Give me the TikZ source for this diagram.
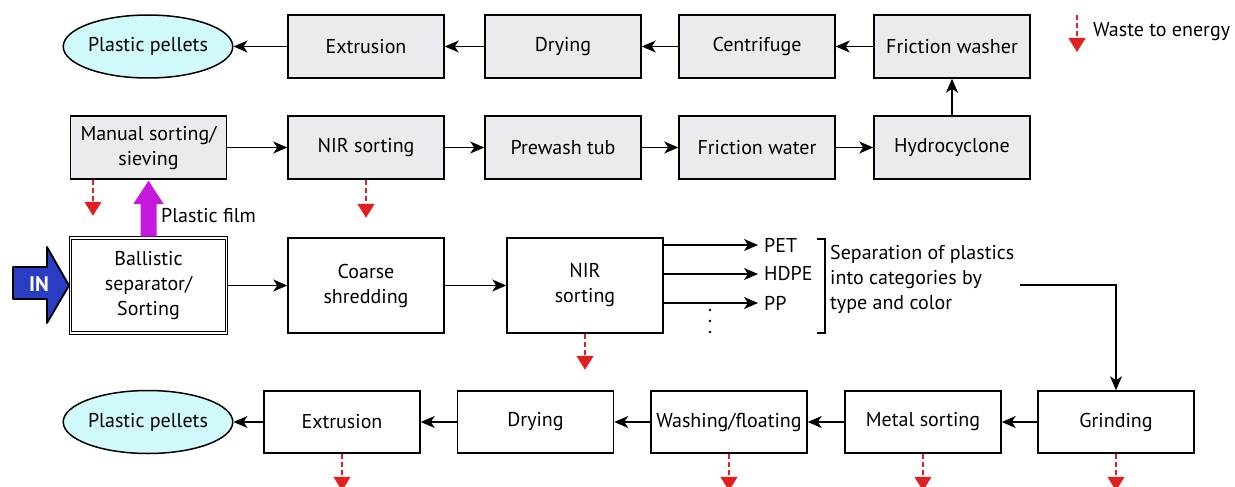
\documentclass[tikz,border=0pt]{standalone}
\usepackage{fontspec}
\setmainfont{PT Sans}
\usetikzlibrary{arrows.meta,shapes.geometric,calc}
\definecolor{boxgray}{HTML}{ECEAEE}
\definecolor{pelcyan}{HTML}{D0FAFC}
\definecolor{inblue}{HTML}{2B3CC4}
\definecolor{filmmag}{HTML}{C518DD}
\definecolor{wred}{HTML}{E0201E}
\tikzset{
  txt/.style={font=\fontsize{20}{25}\selectfont},
  base/.style={txt, draw=black, line width=1.5pt, minimum width=156pt, inner sep=0pt, align=center},
  gbox/.style={base, fill=boxgray, minimum height=63pt},
  wbox/.style={base, fill=white, minimum height=62pt},
  tbox/.style={base, fill=white, minimum height=95pt},
  pel/.style={txt, ellipse, draw=black, line width=1.5pt, fill=pelcyan, minimum width=157pt, minimum height=63pt, inner sep=0pt},
  arr/.style={line width=1.5pt, -{Stealth[length=14pt,width=12pt,inset=4pt]}},
  waste/.style={wred, line width=1.4pt, dash pattern=on 5pt off 3pt, -{Triangle[length=14pt,width=17pt]}},
  lbl/.style={txt, inner sep=0pt}
}
\begin{document}
\begin{tikzpicture}[x=1pt,y=-1pt]
\useasboundingbox (0,0) rectangle (1235,487);
% top row
\node[pel]  (pel1) at (148,46.5) {Plastic pellets};
\node[gbox] (ext1) at (366,46.5) {Extrusion};
\node[gbox] (dry1) at (563,46.5) {Drying};
\node[gbox] (cent) at (757,46.5) {Centrifuge};
\node[gbox] (fw)   at (952,46.5) {Friction washer};
% second row
\node[gbox] (man)  at (148.5,147.5) {Manual sorting/\\sieving};
\node[gbox] (nir1) at (366,147.5) {NIR sorting};
\node[gbox] (pre)  at (563,147.5) {Prewash tub};
\node[gbox] (fwat) at (757,147.5) {Friction water};
\node[gbox] (hyd)  at (952,147.5) {Hydrocyclone};
% middle row
\node[tbox, double, double distance=1.6pt, line width=1pt] (ball) at (148.5,285.5) {Ballistic\\separator/\\Sorting};
\node[tbox] (coarse) at (366,285.5) {Coarse\\shredding};
\node[tbox] (nir2)   at (585,285.5) {NIR\\sorting};
% bottom row
\node[pel]  (pel2)  at (148,422) {Plastic pellets};
\node[wbox] (ext2)  at (342,422) {Extrusion};
\node[wbox] (dry2)  at (535.5,422) {Drying};
\node[wbox] (wash)  at (729,422) {Washing/floating};
\node[wbox] (metal) at (923,422) {Metal sorting};
\node[wbox] (grind) at (1116,422) {Grinding};
% top row arrows
\draw[arr] (fw.west) -- (cent.east);
\draw[arr] (cent.west) -- (dry1.east);
\draw[arr] (dry1.west) -- (ext1.east);
\draw[arr] (ext1.west) -- (pel1.east);
% second row arrows
\draw[arr] (man.east) -- (nir1.west);
\draw[arr] (nir1.east) -- (pre.west);
\draw[arr] (pre.east) -- (fwat.west);
\draw[arr] (fwat.east) -- (hyd.west);
\draw[arr] (hyd.north) -- (fw.south);
% middle row arrows
\draw[arr] (ball.east) -- (coarse.west);
\draw[arr] (coarse.east) -- (nir2.west);
\node[lbl, anchor=west] (pet)  at (764,245) {PET};
\node[lbl, anchor=west] (hdpe) at (764,274) {HDPE};
\node[lbl, anchor=west] (pp)   at (764,303) {PP};
\draw[arr] (nir2.east |- pet.west) -- ([xshift=-6pt]pet.west);
\draw[arr] (nir2.east |- hdpe.west) -- ([xshift=-6pt]hdpe.west);
\draw[arr] (nir2.east |- pp.west) -- ([xshift=-6pt]pp.west);
\foreach \yy in {310,321,332} \fill (710,\yy) circle (1.4pt);
\draw[line width=1.5pt] (817,239) -- (825,239) -- (825,333) -- (817,333);
\node[lbl, anchor=west, align=left] (sep) at (830,279) {Separation of plastics\\into categories by\\type and color};
\coordinate (sepout) at (1020,285);
\draw[arr] (sepout) -| (grind.north);
% bottom row arrows
\draw[arr] (grind.west) -- (metal.east);
\draw[arr] (metal.west) -- (wash.east);
\draw[arr] (wash.west) -- (dry2.east);
\draw[arr] (dry2.west) -- (ext2.east);
\draw[arr] (ext2.west) -- (pel2.east);
% IN arrow
\filldraw[fill=inblue, draw=black, line width=1.8pt, line join=round]
  (13,267) -- (47,267) -- (47,247) -- ([xshift=-1pt]ball.west) -- (47,323) -- (47,299) -- (13,299) -- cycle;
\node[font=\bfseries\fontsize{21}{21}\selectfont, text=white, inner sep=0pt] (in) at (39,284) {IN};
% plastic film arrow
\fill[filmmag] ($(ball.north)+(-8,-1)$) -- ($(man.south)+(-8,24)$) -- ($(man.south)+(-15,24)$) -- ($(man.south)+(0,1)$)
  -- ($(man.south)+(15,24)$) -- ($(man.south)+(8,24)$) -- ($(ball.north)+(8,-1)$) -- cycle;
\node[lbl, anchor=west] (film) at (161,216) {Plastic film};
% waste to energy arrows
\draw[waste] ([xshift=-55.5pt]man.south) -- ++(0,36);
\draw[waste] (nir1.south) -- ++(0,38);
\draw[waste] (nir2.south) -- ++(0,36);
\draw[waste] (ext2.south) -- ++(0,37);
\draw[waste] (wash.south) -- ++(0,37);
\draw[waste] (metal.south) -- ++(0,37);
\draw[waste] (grind.south) -- ++(0,37);
% legend
\coordinate (lg) at (1077,15);
\draw[waste] (lg) -- ++(0,37);
\node[lbl, anchor=west] (legtxt) at (1093,32) {Waste to energy};
\end{tikzpicture}
\end{document}
